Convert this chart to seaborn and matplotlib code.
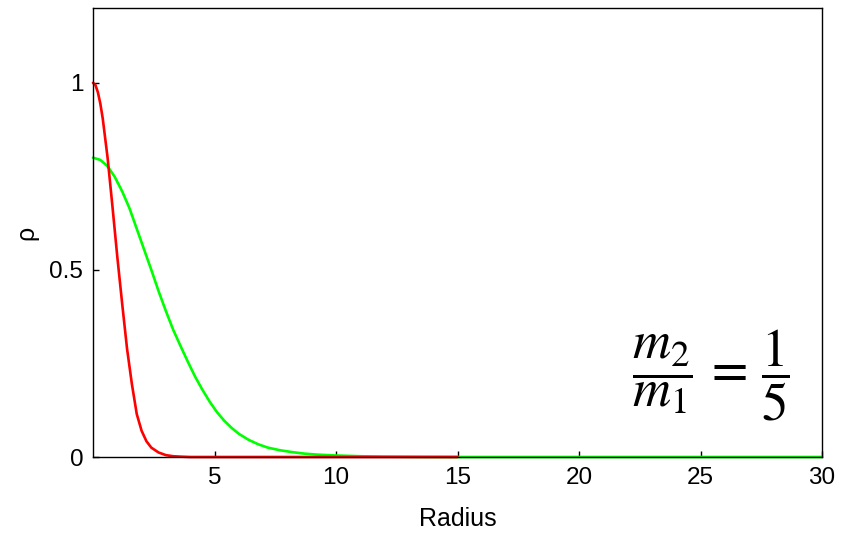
import numpy as np
import pandas as pd
import matplotlib
matplotlib.use("Agg")
import matplotlib.pyplot as plt
import seaborn as sns

# Data
r_red = [0, 0.1, 0.2, 0.3, 0.4, 0.6, 0.8, 1.0, 1.2, 1.4, 1.6, 1.8, 2.0, 2.2, 2.4, 2.7, 3.0, 3.3, 3.6, 4.0, 5, 10, 15]
rho_red = [1.0, 0.994, 0.975, 0.945, 0.905, 0.80, 0.67, 0.535, 0.41, 0.29, 0.195, 0.115, 0.07, 0.042,
           0.025, 0.012, 0.005, 0.002, 0.001, 0, 0, 0, 0]

r_green = [0, 0.3, 0.6, 0.9, 1.2, 1.5, 1.8, 2.1, 2.4, 2.7, 3.0, 3.3, 3.6, 3.9, 4.2, 4.5, 4.8, 5.1,
           5.4, 5.7, 6.0, 6.4, 6.8, 7.2, 7.7, 8.2, 8.7, 9.2, 10, 11, 12, 13.5, 15, 20, 30]
rho_green = [0.800, 0.794, 0.777, 0.748, 0.71, 0.665, 0.61, 0.555, 0.50, 0.443, 0.39, 0.34, 0.297,
             0.255, 0.215, 0.18, 0.148, 0.12, 0.097, 0.078, 0.062, 0.046, 0.034, 0.025, 0.018,
             0.013, 0.009, 0.0065, 0.004, 0.002, 0.001, 0.0003, 0, 0, 0]

x_ticks = [5, 10, 15, 20, 25, 30]
y_ticks = [0, 0.5, 1]
y_tick_labels = ["0", "0.5", "1"]

sns.set_style("ticks")
plt.rcParams['font.family'] = ['Liberation Sans', 'DejaVu Sans']
plt.rcParams['mathtext.fontset'] = 'stix'

fig = plt.figure(figsize=(8.56, 5.34), dpi=100)
ax = fig.add_axes([93/856, 1 - 457/534, (822-93)/856, (457-8)/534])

df_g = pd.DataFrame({"r": r_green, "rho": rho_green})
df_r = pd.DataFrame({"r": r_red, "rho": rho_red})
sns.lineplot(data=df_g, x="r", y="rho", ax=ax, color="#00ff00", linewidth=1.9, sort=False)
sns.lineplot(data=df_r, x="r", y="rho", ax=ax, color="#ff0000", linewidth=1.9, sort=False)
for ln in ax.get_lines():
    ln.set_clip_on(False)
    ln.set_zorder(2)
    ln.set_solid_joinstyle("round")

ax.set_xlim(0, 30)
ax.set_ylim(0, 1.2)
ax.set_xticks(x_ticks)
ax.set_xticklabels([str(t) for t in x_ticks])
ax.set_yticks(y_ticks)
ax.set_yticklabels(y_tick_labels)
ax.tick_params(direction="in", length=4.5, width=1.0, labelsize=17.5, pad=7,
               color="black", labelcolor="black")
for s in ax.spines.values():
    s.set_visible(True)
    s.set_linewidth(1.0)
    s.set_color("black")
    s.set_zorder(2.5)

ax.set_xlabel("Radius", fontsize=18, labelpad=13, color="black")
ax.set_ylabel("ρ", fontsize=18, labelpad=8, color="black")

ax.text(0.848, 0.183, r"$\dfrac{m_2}{m_1}\,=\,\dfrac{1}{5}$", transform=ax.transAxes,
        fontsize=38, ha="center", va="center", color="black")

fig.savefig("out.png", dpi=100)
